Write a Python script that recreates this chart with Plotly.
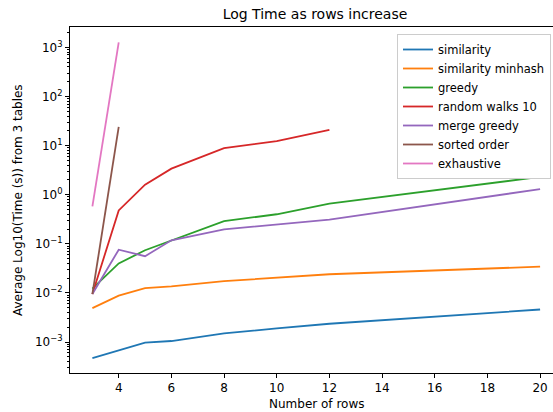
import plotly.graph_objects as go

rows = [3, 4, 5, 6, 8, 10, 12, 20]
rows_short = [3, 4, 5, 6, 8, 10, 12]
rows_tiny = [3, 4]

similarity = [4.7e-4, 6.8e-4, 9.7e-4, 1.05e-3, 1.5e-3, 1.9e-3, 2.36e-3, 4.6e-3]
similarity_minhash = [4.9e-3, 8.8e-3, 0.0126, 0.0136, 0.0174, 0.0204, 0.024, 0.0343]
greedy = [0.0123, 0.040, 0.074, 0.118, 0.29, 0.40, 0.66, 2.3]
random_walks = [0.0095, 0.48, 1.6, 3.4, 8.9, 12.3, 21]
merge_greedy = [0.0095, 0.076, 0.056, 0.118, 0.197, 0.25, 0.31, 1.3]
sorted_order = [0.0095, 24]
exhaustive = [0.58, 1260]

series = [
    ("similarity", rows, similarity, "#1f77b4"),
    ("similarity minhash", rows, similarity_minhash, "#ff7f0e"),
    ("greedy", rows, greedy, "#2ca02c"),
    ("random walks 10", rows_short, random_walks, "#d62728"),
    ("merge greedy", rows, merge_greedy, "#9467bd"),
    ("sorted order", rows_tiny, sorted_order, "#8c564b"),
    ("exhaustive", rows_tiny, exhaustive, "#e377c2"),
]

x_ticks = [4, 6, 8, 10, 12, 14, 16, 18, 20]
y_exps = [-3, -2, -1, 0, 1, 2, 3]

fig = go.Figure()
for name, xs, ys, c in series:
    fig.add_trace(go.Scatter(x=xs, y=ys, mode="lines", name=name,
                             line=dict(color=c, width=1.8)))

font = "DejaVu Sans"
major_vals = [10 ** e for e in y_exps]
major_text = ["10<sup>%d</sup>" % e if e >= 0 else "10<sup>\u2212%d</sup>" % (-e) for e in y_exps]
minor_vals = [k * 10 ** e for e in range(-4, 4) for k in range(2, 10)]

L, R, T, B = 70, 553, 27, 373
W, H = R - L, B - T

fig.update_layout(
    width=553, height=412,
    margin=dict(l=L, r=553 - R, t=T, b=412 - B, autoexpand=False),
    paper_bgcolor="white", plot_bgcolor="white",
    font=dict(family=font, size=12, color="black"),
    title=dict(text="Log Time as rows increase", x=315 / 553, xref="container",
               xanchor="center", y=1 - 14 / 412, yanchor="middle",
               yref="container", font=dict(size=14, family=font, color="black")),
    showlegend=True,
    legend=dict(x=(397 - L) / W, y=(B - 34) / H, xanchor="left", yanchor="top",
                bgcolor="white", bordercolor="#cccccc", borderwidth=1,
                font=dict(size=11.5, family=font), tracegroupgap=0,
                itemwidth=30),
    xaxis=dict(range=[2.15, 20.49], tickvals=x_ticks, ticks="outside",
               ticklen=4, tickcolor="black", showgrid=False, zeroline=False,
               showline=True, linecolor="black", linewidth=1, mirror=True,
               tickfont=dict(size=12, family=font)),
    yaxis=dict(type="log", range=[-3.63, 3.415], tickvals=major_vals,
               ticktext=major_text, ticks="outside", ticklen=4,
               tickcolor="black", showgrid=False, zeroline=False,
               showline=True, linecolor="black", linewidth=1,
               tickfont=dict(size=12, family=font),
               minor=dict(tickvals=minor_vals, ticks="outside", ticklen=2,
                          tickcolor="black", showgrid=False)),
    annotations=[
        dict(text="Number of rows", x=(316 - L) / W, y=(B - 404) / H,
             xref="paper", yref="paper", xanchor="center", yanchor="middle",
             showarrow=False, font=dict(size=12, family=font)),
        dict(text="Average Log10(Time (s)) from 3 tables", x=(18 - L) / W,
             y=(B - 200) / H, xref="paper", yref="paper",
             xanchor="center", yanchor="middle", textangle=-90,
             showarrow=False, font=dict(size=12, family=font)),
    ],
)

fig.write_html("out.html",
               config={"displayModeBar": False},
               post_script="document.body.style.margin='0';"
                           "document.body.style.padding='0';")
